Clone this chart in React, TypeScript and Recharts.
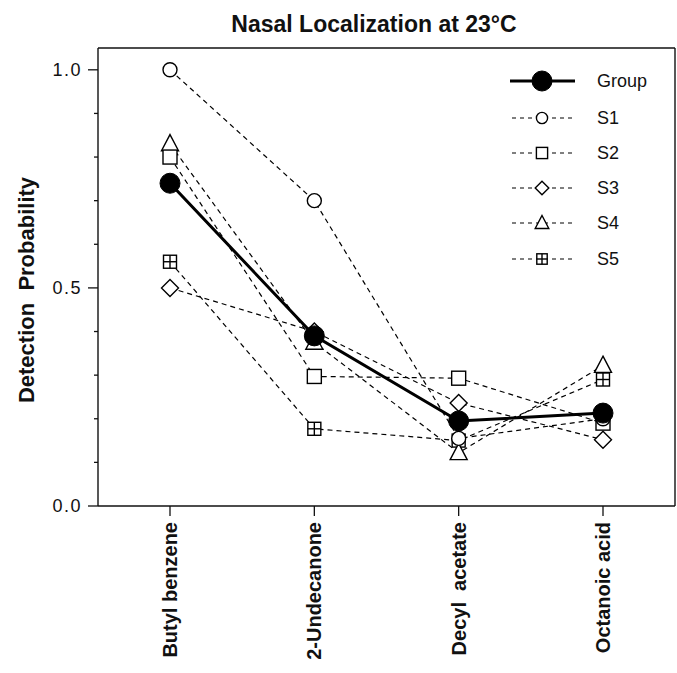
import { LineChart, Line, XAxis, YAxis } from "recharts";

const categories = ["Butyl benzene", "2-Undecanone", "Decyl  acetate", "Octanoic acid"];
const groupValues = [0.74, 0.39, 0.195, 0.213];
const s1Values = [1.0, 0.7, 0.155, 0.2];
const s2Values = [0.8, 0.297, 0.293, 0.19];
const s3Values = [0.5, 0.4, 0.236, 0.152];
const s4Values = [0.83, 0.375, 0.122, 0.322];
const s5Values = [0.56, 0.177, 0.15, 0.29];
const yTicks = [0, 0.1, 0.2, 0.3, 0.4, 0.5, 0.6, 0.7, 0.8, 0.9, 1.0];
const yLabeled = [0, 0.5, 1.0];

const FONT = "'Liberation Sans', Arial, sans-serif";

type Shape = "circle" | "square" | "diamond" | "triangle" | "plus" | "filled";

const subjects: { key: string; label: string; shape: Shape; values: number[] }[] = [
  { key: "s1", label: "S1", shape: "circle", values: s1Values },
  { key: "s2", label: "S2", shape: "square", values: s2Values },
  { key: "s3", label: "S3", shape: "diamond", values: s3Values },
  { key: "s4", label: "S4", shape: "triangle", values: s4Values },
  { key: "s5", label: "S5", shape: "plus", values: s5Values },
];
// S5 drawn first so it sits under the others
const drawOrder = ["s5", "s4", "s3", "s2", "s1"];

const data = categories.map((name, i) => {
  const row: Record<string, string | number> = { name, group: groupValues[i] };
  subjects.forEach((s) => (row[s.key] = s.values[i]));
  return row;
});

function Marker({ shape, cx, cy, scale = 1 }: { shape: Shape; cx: number; cy: number; scale?: number }) {
  const st = { stroke: "#000", strokeWidth: 1.4, fill: "#fff" };
  if (shape === "circle") {
    return <circle cx={cx} cy={cy} r={7 * scale} {...st} />;
  }
  if (shape === "square") {
    const h = 7 * scale;
    return <rect x={cx - h} y={cy - h} width={h * 2} height={h * 2} {...st} />;
  }
  if (shape === "diamond") {
    const h = 8.5 * scale;
    return <polygon points={`${cx},${cy - h} ${cx + h},${cy} ${cx},${cy + h} ${cx - h},${cy}`} {...st} />;
  }
  if (shape === "triangle") {
    const h = 8.5 * scale;
    return (
      <polygon
        points={`${cx},${cy - h * 1.1} ${cx + h},${cy + h * 0.8} ${cx - h},${cy + h * 0.8}`}
        {...st}
      />
    );
  }
  if (shape === "plus") {
    const h = 6.5 * scale;
    return (
      <g>
        <rect x={cx - h} y={cy - h} width={h * 2} height={h * 2} {...st} />
        <line x1={cx - h} x2={cx + h} y1={cy} y2={cy} stroke="#000" strokeWidth={1.4} />
        <line x1={cx} x2={cx} y1={cy - h} y2={cy + h} stroke="#000" strokeWidth={1.4} />
      </g>
    );
  }
  return <circle cx={cx} cy={cy} r={10 * scale} fill="#000" stroke="#000" />;
}

function YTick({ x, y, payload }: any) {
  const major = yLabeled.includes(payload.value);
  return (
    <g>
      <line x1={x - (major ? 10 : 4)} x2={x} y1={y} y2={y} stroke="#111" strokeWidth={1.3} />
      {major && (
        <text x={x - 16} y={y} textAnchor="end" dominantBaseline="central" fontSize={18} fontFamily={FONT} letterSpacing={1.5} fill="#111">
          {payload.value.toFixed(1)}
        </text>
      )}
    </g>
  );
}

function XTick({ x, y, payload }: any) {
  return (
    <g>
      <line x1={x} x2={x} y1={y} y2={y + 10} stroke="#111" strokeWidth={1.3} />
      <text
        x={x}
        y={y + 16}
        transform={`rotate(-90, ${x}, ${y + 16})`}
        textAnchor="end"
        dominantBaseline="central"
        fontSize={20}
        fontWeight="bold"
        fontFamily={FONT}
        fill="#111"
        style={{ whiteSpace: "pre" }}
      >
        {payload.value}
      </text>
    </g>
  );
}

const legendRows = [81, 118, 153, 188, 223, 259];

function Overlay() {
  return (
    <svg width={677} height={673} style={{ position: "absolute", left: 0, top: 0, pointerEvents: "none" }}>
      <text x={374} y={32} textAnchor="middle" fontSize={23} fontWeight="bold" fontFamily={FONT} fill="#111">
        Nasal Localization at 23°C
      </text>
      <text
        x={26}
        y={290}
        transform="rotate(-90, 26, 290)"
        textAnchor="middle"
        dominantBaseline="central"
        fontSize={22}
        fontWeight="bold"
        fontFamily={FONT}
        fill="#111"
        style={{ whiteSpace: "pre" }}
      >
        Detection  Probability
      </text>
      <g>
        <line x1={510} x2={575} y1={legendRows[0]} y2={legendRows[0]} stroke="#000" strokeWidth={3} />
        <Marker shape="filled" cx={542} cy={legendRows[0]} />
        <text x={597} y={legendRows[0]} dominantBaseline="central" fontSize={18} fontFamily={FONT} fill="#111">
          Group
        </text>
      </g>
      {subjects.map((s, i) => (
        <g key={s.key}>
          <line x1={512} x2={574} y1={legendRows[i + 1]} y2={legendRows[i + 1]} stroke="#000" strokeWidth={1.2} strokeDasharray="4 4" />
          <Marker shape={s.shape} cx={542} cy={legendRows[i + 1]} scale={0.8} />
          <text x={597} y={legendRows[i + 1]} dominantBaseline="central" fontSize={18} fontFamily={FONT} fill="#111">
            {s.label}
          </text>
        </g>
      ))}
    </svg>
  );
}

export default function App() {
  return (
    <div style={{ position: "absolute", left: 0, top: 0, width: 677, height: 673, background: "#fff" }}>
      <LineChart width={677} height={673} data={data} margin={{ top: 47, right: 1, left: 97, bottom: 166 }}>
        <XAxis
          dataKey="name"
          padding={{ left: 72, right: 72 }}
          height={1}
          tickSize={0}
          tickMargin={0}
          tick={<XTick />}
          axisLine={{ stroke: "#111", strokeWidth: 1.4 }}
          interval={0}
        />
        <XAxis
          xAxisId="top"
          orientation="top"
          dataKey="name"
          height={1}
          tick={false}
          tickLine={false}
          axisLine={{ stroke: "#111", strokeWidth: 1.4 }}
        />
        <YAxis
          domain={[0, 1.05]}
          ticks={yTicks}
          width={1}
          tickSize={0}
          tickMargin={0}
          tick={<YTick />}
          axisLine={{ stroke: "#111", strokeWidth: 1.4 }}
          interval={0}
        />
        <YAxis
          yAxisId="right"
          orientation="right"
          domain={[0, 1.05]}
          width={1}
          tick={false}
          tickLine={false}
          axisLine={{ stroke: "#111", strokeWidth: 1.4 }}
        />
        {drawOrder.map((k) => {
          const s = subjects.find((d) => d.key === k)!;
          return (
            <Line
              key={s.key}
              dataKey={s.key}
              type="linear"
              stroke="#000"
              strokeWidth={1.2}
              strokeDasharray="5 4"
              isAnimationActive={false}
              activeDot={false}
              dot={(p: any) => <Marker key={`${s.key}-${p.index}`} shape={s.shape} cx={p.cx} cy={p.cy} />}
            />
          );
        })}
        <Line
          dataKey="group"
          type="linear"
          stroke="#000"
          strokeWidth={3}
          isAnimationActive={false}
          activeDot={false}
          dot={(p: any) => <Marker key={`g-${p.index}`} shape="filled" cx={p.cx} cy={p.cy} />}
        />
      </LineChart>
      <Overlay />
    </div>
  );
}
